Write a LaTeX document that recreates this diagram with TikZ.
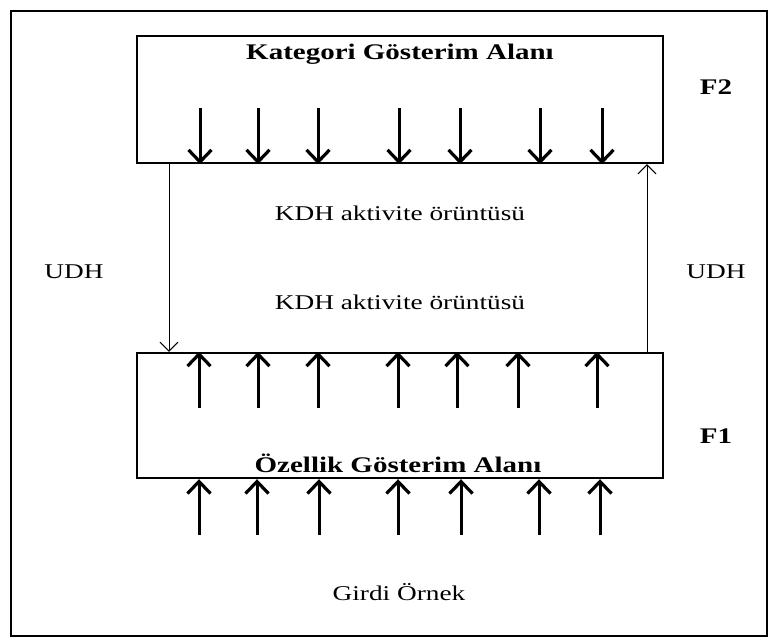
\documentclass[tikz,border=0pt]{standalone}
\usepackage{fontspec}
\setmainfont{Liberation Serif}
\newfontfamily\widefont[FakeStretch=1.3]{Liberation Serif}
\usetikzlibrary{arrows.meta}
\begin{document}
\begin{tikzpicture}[x=1pt,y=-1pt,
  layerbox/.style={draw,line width=2.4pt,minimum width=526pt,inner sep=0pt},
  bigarrow/.style={line width=3pt,-{Straight Barb[length=12pt,width=23pt,line width=3.2pt]}},
  linkarrow/.style={line width=1pt,-{Straight Barb[length=9pt,width=18pt,line width=1pt]}},
  plain/.style={font=\widefont\fontsize{21}{24}\selectfont,inner sep=0pt},
  heading/.style={font=\widefont\bfseries\fontsize{22.3}{25}\selectfont,inner sep=0pt}]
\useasboundingbox (0,0) rectangle (775,641);
\draw[line width=1.6pt] (11,11) rectangle (767,636);

% the two layers
\node[layerbox,minimum height=127pt] (f2box) at (400,99.5) {};
\node[layerbox,minimum height=125pt] (f1box) at (400,415.5) {};

\node[heading,anchor=base] (f2title) at (400,59) {Kategori Gösterim Alanı};
\node[heading,anchor=base] (f1title) at (398,472) {Özellik Gösterim Alanı};
\node[heading] (f2) at (716,87) {F2};
\node[heading] (f1) at (716,436) {F1};

% top-down activity into F2
\foreach \x [count=\i] in {200,258,318,399,460,540,602}{
  \coordinate (d\i) at (\x,108);
  \draw[bigarrow] (d\i) -- (d\i |- f2box.south);
}
% bottom-up activity inside F1
\foreach \x [count=\i] in {199,258,318,398,457,518,597}{
  \coordinate (u\i) at (\x,408);
  \draw[bigarrow] (u\i) -- (u\i |- f1box.north);
}
% input pattern into F1
\foreach \x [count=\i] in {199,257,319,398,461,539,600}{
  \coordinate (g\i) at (\x,535);
  \draw[bigarrow] (g\i) -- (g\i |- f1box.south);
}

% adaptive weights between layers
\coordinate (ltop) at (169,0);
\coordinate (rtop) at (647,0);
\draw[linkarrow] (ltop |- f2box.south) -- (ltop |- f1box.north);
\draw[linkarrow] (rtop |- f1box.north) -- (rtop |- f2box.south);

\node[plain] (kdh1) at (400,213) {KDH aktivite örüntüsü};
\node[plain] (kdh2) at (400,302) {KDH aktivite örüntüsü};
\node[plain] (udhl) at (74,272) {UDH};
\node[plain] (udhr) at (716,272) {UDH};
\node[plain] (input) at (399,592) {Girdi Örnek};
\end{tikzpicture}
\end{document}
